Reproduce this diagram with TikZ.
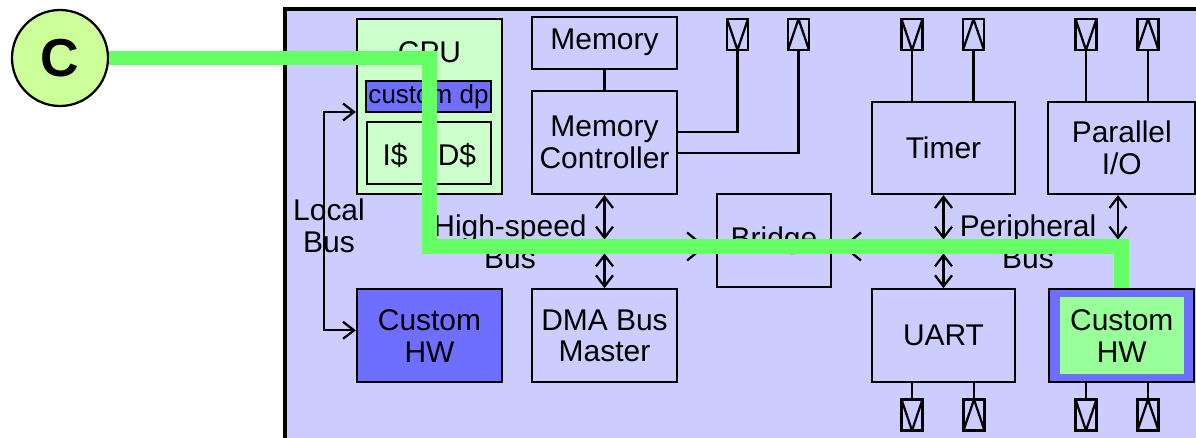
\documentclass[tikz,border=0pt]{standalone}
\usepackage{fontspec}
\setsansfont{Liberation Sans}
\usepackage{tikz}
\usetikzlibrary{arrows.meta,positioning}

\definecolor{boardbg}{HTML}{CCCCFF}
\definecolor{cpubg}{HTML}{CCFFCC}
\definecolor{hwblue}{HTML}{6F6FFF}
\definecolor{hwgreen}{HTML}{99FF99}
\definecolor{pathgreen}{HTML}{66FF66}
\definecolor{circbg}{HTML}{CCFF99}

\begin{document}
\begin{tikzpicture}[x=0.025cm,y=-0.025cm,line width=1.6pt,font=\sffamily\fontsize{21.3}{22.5}\selectfont,
	block/.style={draw,fill=boardbg,align=center,inner sep=0pt,minimum width=3.625cm,minimum height=2.325cm},
	padv/.style={draw,minimum width=0.525cm,minimum height=0.775cm,inner sep=0pt,
		path picture={\draw (path picture bounding box.north west) -- (path picture bounding box.south) -- (path picture bounding box.north east);}},
	pada/.style={draw,minimum width=0.525cm,minimum height=0.775cm,inner sep=0pt,
		path picture={\draw (path picture bounding box.south west) -- (path picture bounding box.north) -- (path picture bounding box.south east);}},
	bidir/.style={{Straight Barb[length=2.75mm,width=4.25mm]}-{Straight Barb[length=2.75mm,width=4.25mm]}},
	busarrow/.style={-{Straight Barb[length=4.25mm,width=7mm]},shorten >=0.25cm}]
	\useasboundingbox (0,0) rectangle (1196,438);
	\draw [line width=3.5pt,fill=boardbg] (285,9) rectangle (1215,450);

	% processor side
	\node [block,fill=cpubg,minimum height=4.375cm]	(cpu)		at (429.5,106.5)	{};
	\node										(cpulbl)	at (429.5,52)		{CPU};
	\node [draw,fill=hwblue,minimum width=3.125cm,minimum height=0.775cm,inner sep=0pt,
		font=\sffamily\fontsize{18.5}{19}\selectfont]	(dp)	at (428.5,96.5)		{custom dp};
	\node [draw,fill=cpubg,minimum width=3.1cm,minimum height=1.55cm]	(cache)	at (429,153)	{};
	\node										(icache)	at (395,155)		{I\$};
	\node										(dcache)	at (457,155)		{D\$};
	\node [block,fill=hwblue]					(lhw)		[below=2.325cm of cpu]	{Custom\\HW};

	\node [block,minimum height=2.575cm]		(memctl)	at (604.5,142.5)	{Memory\\Controller};
	\node [block,minimum height=1.3cm]			(mem)		[above=0.5cm of memctl]	{Memory};
	\node [block]								(dma)		[below=2.325cm of memctl]	{DMA Bus\\Master};
	\node [block,minimum width=2.85cm]			(bridge)	at (774,240.5)		{Bridge};

	% peripheral side
	\node [block,minimum width=3.575cm,minimum height=2.3cm]	(timer)	at (943.5,148)	{Timer};
	\node [block,minimum width=3.575cm]			(uart)		[below=2.325cm of timer]	{UART};
	\node [block,minimum width=3.675cm,minimum height=2.3cm]	(par)	[right=0.775cm of timer]	{Parallel\\I/O};
	\node [block,fill=hwblue]					(rhw)		[below=2.325cm of par]	{};
	\node [fill=hwgreen,minimum width=3.1cm,minimum height=1.925cm,inner sep=0pt,align=center]	(rhwin)	at (rhw)	{Custom\\HW};

	% pads
	\foreach \n/\x/\s in {mp1/737.5/padv,mp2/798.5/pada,tp1/912/padv,tp2/973.5/pada,pp1/1086/padv,pp2/1148/pada}
		\node [\s] (\n) at (\x,34.5) {};
	\foreach \n/\x/\s in {up1/912/padv,up2/974/pada,hp1/1086/padv,hp2/1148/pada}
		\node [\s] (\n) at (\x,415) {};
	\foreach \p/\b in {tp1/timer,tp2/timer,pp1/par,pp2/par}
		\draw (\p.south) -- (\p.south |- \b.north);
	\foreach \p/\b in {up1/uart,up2/uart,hp1/rhw,hp2/rhw}
		\draw (\p.north) -- (\p.north |- \b.south);
	\draw ([yshift=0.2625cm]memctl.east) -| (mp1.south);
	\draw ([yshift=-0.2625cm]memctl.east) -| (mp2.south);
	\draw (mem) -- (memctl);

	% buses
	\coordinate (hs) at (604.5,246.5);
	\coordinate (ps) at (943.5,246.5);
	\coordinate (pe) at (1118,246.5);
	\draw [bidir] ([yshift=-0.1375cm]cpu.west) -- ++(-32,0) |- ([yshift=0.1375cm]lhw.west);
	\draw [bidir] (memctl) -- ([yshift=0.175cm]hs);
	\draw [bidir] ([yshift=-0.175cm]hs) -- (dma);
	\draw [bidir] (timer) -- ([yshift=0.175cm]ps);
	\draw [bidir] ([yshift=-0.175cm]ps) -- (uart);
	\draw [bidir] (par.south -| pe) -- ([yshift=0.175cm]pe);
	\draw [busarrow] (hs) -- (hs -| bridge.west);
	\draw [busarrow] (pe) -- (pe -| bridge.east);

	\node [align=center]	(lbus)	at (329,226)	{Local\\Bus};
	\node [align=center]	(hbus)	at (510,242)	{High-speed\\Bus};
	\node [align=center]	(pbus)	at (1028,242)	{Peripheral\\Bus};

	% highlighted path
	\node [circle,draw,fill=circbg,minimum size=2.4cm,inner sep=0pt,
		font=\sffamily\bfseries\fontsize{38}{40}\selectfont]	(circ)	at (60,58)	{C};
	\draw [pathgreen,line width=0.37cm] (circ.east) -- (circ -| cpu) -- (cpu |- hs) -- (hs -| rhw) -- (rhw.north);
\end{tikzpicture}
\end{document}
